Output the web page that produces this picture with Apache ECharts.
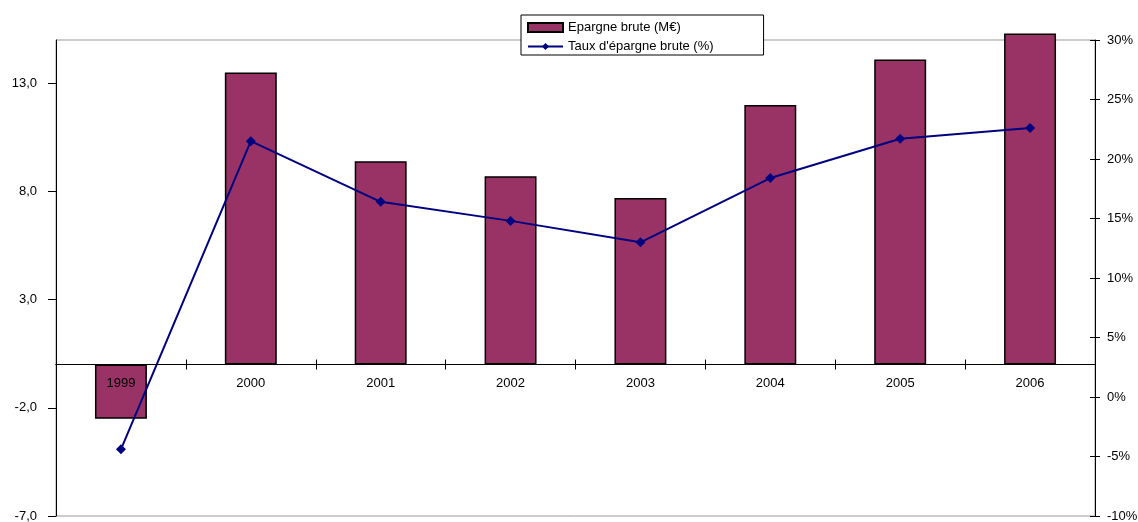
<!DOCTYPE html>
<html>
<head>
<meta charset="utf-8">
<style>
  html, body { margin: 0; padding: 0; background: #fff; }
  #chart { width: 1138px; height: 522px; }
</style>
<script src="https://cdn.jsdelivr.net/npm/echarts@6/dist/echarts.min.js"></script>
</head>
<body>
<div id="chart"></div>
<script>
// data
var years = ['1999', '2000', '2001', '2002', '2003', '2004', '2005', '2006'];
var epargneBrute = [-2.5, 13.5, 9.4, 8.7, 7.7, 12.0, 14.1, 15.3];      // M€
var tauxEpargne = [-4.4, 21.5, 16.4, 14.8, 13.0, 18.4, 21.7, 22.6];   // %

var font = 'Liberation Sans, Arial, Helvetica, sans-serif';

// grid and left axis range, the category axis sits on the zero of the left axis
var gridTop = 40, gridBottom = 6, H = 522;
var leftMin = -7, leftMax = 15;
var plotH = H - gridTop - gridBottom;
var zeroFromBottom = (0 - leftMin) / (leftMax - leftMin) * plotH;
var zeroFromTop = plotH - zeroFromBottom;

var chart = echarts.init(document.getElementById('chart'));

var option = {
    backgroundColor: '#fff',
    animation: false,
    textStyle: { fontFamily: font },
    legend: {
        orient: 'vertical',
        left: 521,
        top: 15,
        itemWidth: 35,
        itemHeight: 9,
        itemGap: 6,
        padding: [6, 50, 2, 6],
        backgroundColor: '#fff',
        borderColor: '#000',
        borderWidth: 1,
        textStyle: { fontFamily: font, fontSize: 13, color: '#000' },
        data: [
            { name: 'Epargne brute (M€)', icon: 'rect' },
            { name: "Taux d'épargne brute (%)" }
        ]
    },
    grid: {
        left: 56,
        right: 43,
        top: gridTop,
        bottom: gridBottom,
        outerBoundsMode: 'none',
        containLabel: false,
        show: true,
        borderColor: '#999',
        borderWidth: 1
    },
    xAxis: [{
        type: 'category',
        data: years,
        position: 'bottom',
        offset: -zeroFromBottom,
        z: 10,
        axisLine: { onZero: false, lineStyle: { color: '#000', width: 1 } },
        axisTick: { show: true, length: 5, lineStyle: { color: '#000' } },
        axisLabel: { color: '#000', fontSize: 13, fontFamily: font, margin: 12 },
        splitLine: { show: false }
    }, {
        // only for the upper half of the crossing ticks
        type: 'category',
        data: years,
        position: 'top',
        offset: -zeroFromTop,
        axisLine: { onZero: false, lineStyle: { color: '#000', width: 1 } },
        axisTick: { show: true, length: 5, lineStyle: { color: '#000' } },
        axisLabel: { show: false },
        splitLine: { show: false }
    }],
    yAxis: [{
        type: 'value',
        min: leftMin,
        max: leftMax,
        interval: 5,
        position: 'left',
        axisLine: { show: true, lineStyle: { color: '#000' } },
        axisTick: { show: true, length: 8, lineStyle: { color: '#000' } },
        axisLabel: {
            color: '#000', fontSize: 13, fontFamily: font, margin: 19,
            showMaxLabel: false,
            formatter: function (v) { return v.toFixed(1).replace('.', ','); }
        },
        splitLine: { show: false }
    }, {
        type: 'value',
        min: -10,
        max: 30,
        interval: 5,
        position: 'right',
        axisLine: { show: true, lineStyle: { color: '#000' } },
        axisTick: { show: true, length: 5, lineStyle: { color: '#000' } },
        axisLabel: {
            color: '#000', fontSize: 13, fontFamily: font, margin: 12,
            formatter: '{value}%'
        },
        splitLine: { show: false }
    }, {
        // inner half of the crossing ticks on the right axis
        type: 'value',
        min: -10,
        max: 30,
        interval: 5,
        position: 'right',
        axisLine: { show: false },
        axisTick: { show: true, inside: true, length: 5, lineStyle: { color: '#000' } },
        axisLabel: { show: false },
        splitLine: { show: false }
    }],
    series: [{
        name: 'Epargne brute (M€)',
        type: 'bar',
        data: epargneBrute,
        barWidth: '40%',
        clip: false,
        itemStyle: { color: '#993366', borderColor: '#000', borderWidth: 1.5 }
    }, {
        name: "Taux d'épargne brute (%)",
        type: 'line',
        yAxisIndex: 1,
        data: tauxEpargne,
        symbol: 'diamond',
        symbolSize: 10,
        lineStyle: { color: '#000080', width: 2 },
        itemStyle: { color: '#000080' },
        z: 5
    }]
};

chart.setOption(option);
</script>
</body>
</html>
